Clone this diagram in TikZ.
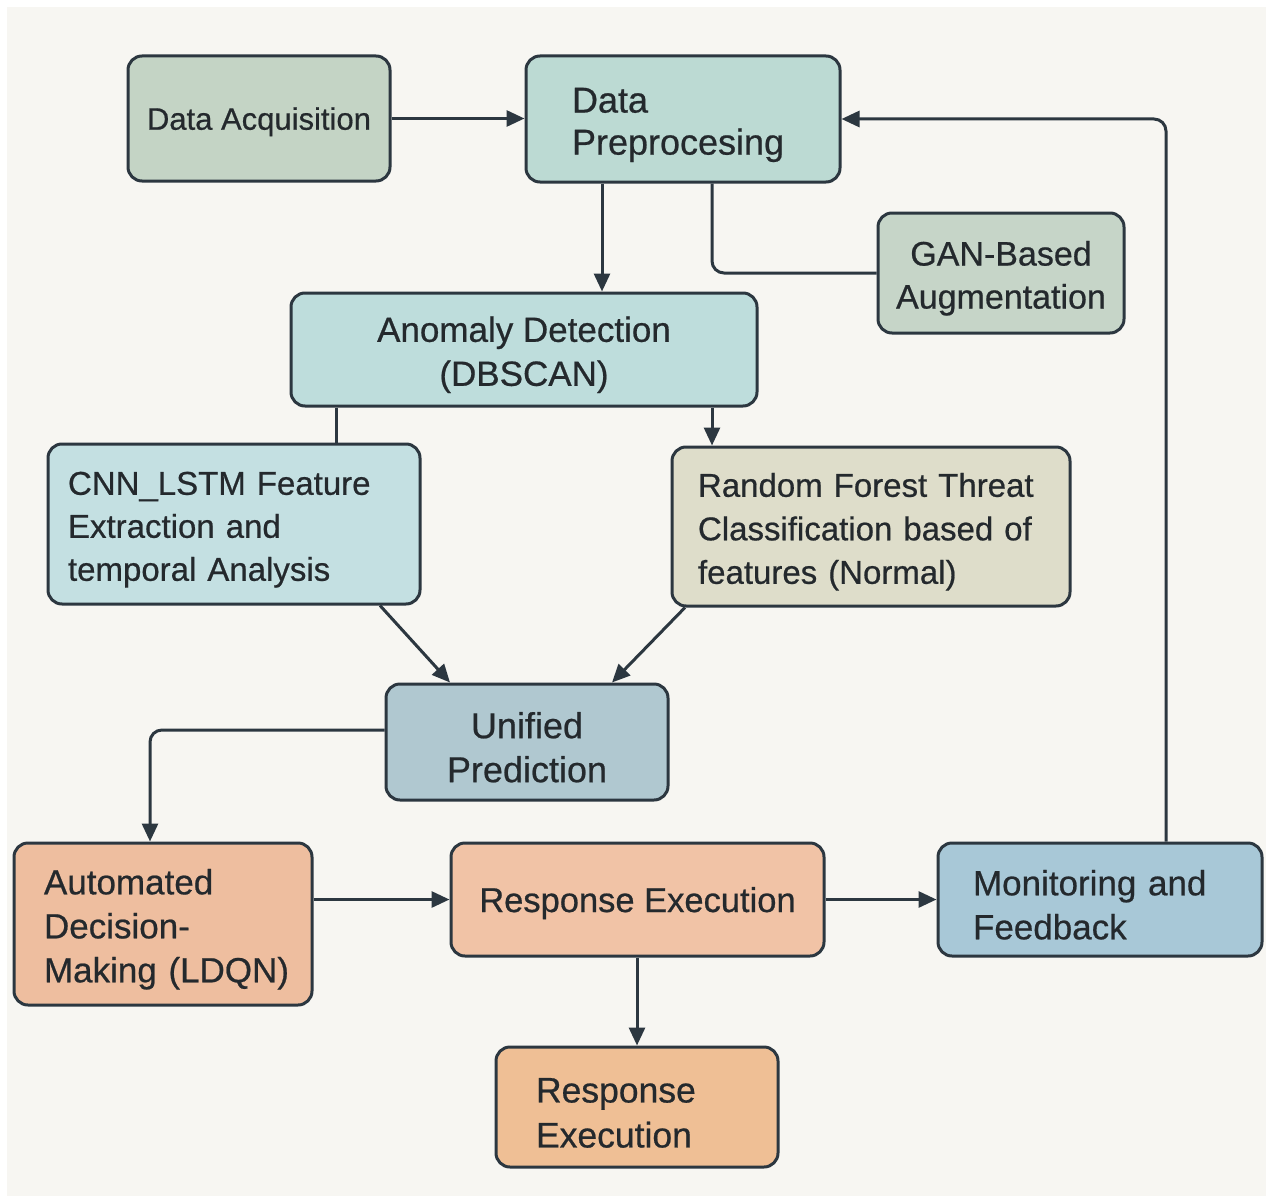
\documentclass[tikz,border=0pt]{standalone}
\usepackage{fontspec}
\setmainfont{Liberation Sans}[UprightFeatures={FakeBold=0.6}]
\usetikzlibrary{arrows.meta}

\definecolor{bg}{HTML}{F7F6F2}
\definecolor{edge}{HTML}{2C3740}
\definecolor{ink}{HTML}{24292D}
\definecolor{cAcq}{HTML}{C4D4C5}
\definecolor{cPre}{HTML}{BCDAD3}
\definecolor{cGan}{HTML}{C6D5C8}
\definecolor{cAno}{HTML}{BEDDDC}
\definecolor{cCnn}{HTML}{C4E0E2}
\definecolor{cRf}{HTML}{DEDDCA}
\definecolor{cUni}{HTML}{B0C8D0}
\definecolor{cAdm}{HTML}{EEBE9F}
\definecolor{cRes}{HTML}{F1C3A6}
\definecolor{cMon}{HTML}{A8C8D7}
\definecolor{cRes2}{HTML}{EFBF95}

% extra room above the first line, so that text blocks sit a little low in their boxes
\newcommand\topgap{\rule{0pt}{\dimexpr 0.74em+10pt\relax}}

\tikzset{
  blk/.style={draw=edge, line width=3pt, rounded corners=14pt, text=ink, inner sep=0pt},
  oneline/.style={text depth=0pt},
  conn/.style={draw=edge, line width=3pt},
  arr/.style={conn, -{Triangle[length=18pt,width=16pt]}},
}

\begin{document}
\begin{tikzpicture}[x=1pt,y=-1pt]
\useasboundingbox (0,0) rectangle (1266,1196);
\fill[white] (0,0) rectangle (1266,1196);
\fill[bg] (7,7) rectangle (1266,1196);

% boxes
\node[blk, oneline, fill=cAcq, minimum width=262pt, minimum height=125pt,
      font=\fontsize{31}{37}\selectfont] (acq) at (259,118.5) {Data Acquisition};
\node[blk, fill=cPre, minimum width=314pt, minimum height=126pt, text width=222pt, align=left,
      font=\fontsize{36}{42}\selectfont] (pre) at (683,119) {\topgap Data\\Preprocesing};
\node[blk, fill=cGan, minimum width=246pt, minimum height=120pt, align=center,
      font=\fontsize{34}{43}\selectfont] (gan) at (1001,273) {\topgap GAN-Based\\Augmentation};
\node[blk, fill=cAno, minimum width=466pt, minimum height=113pt, align=center,
      font=\fontsize{35}{44}\selectfont] (ano) at (524,349.5) {\topgap Anomaly Detection\\(DBSCAN)};
\node[blk, fill=cCnn, minimum width=372pt, minimum height=160pt, text width=332pt, align=left,
      font=\fontsize{33}{43}\selectfont] (cnn) at (234,524) {\topgap CNN\_LSTM~Feature\\Extraction~and\\temporal~Analysis};
\node[blk, fill=cRf, minimum width=398pt, minimum height=159pt, text width=346pt, align=left,
      font=\fontsize{33}{43.5}\selectfont] (rf) at (871,526.5) {\topgap Random~Forest~Threat\\Classification~based~of\\features~(Normal)};
\node[blk, fill=cUni, minimum width=282pt, minimum height=116pt, align=center,
      font=\fontsize{36}{44}\selectfont] (uni) at (527,742) {\topgap Unified\\Prediction};
\node[blk, fill=cAdm, minimum width=298pt, minimum height=162pt, text width=238pt, align=left,
      font=\fontsize{35}{44}\selectfont] (adm) at (163,924) {\topgap Automated\\Decision-\\Making~(LDQN)};
\node[blk, oneline, fill=cRes, minimum width=373pt, minimum height=113pt,
      font=\fontsize{34.5}{42}\selectfont] (res) at (637.5,899.5) {Response Execution};
\node[blk, fill=cMon, minimum width=324pt, minimum height=113pt, text width=254pt, align=left,
      font=\fontsize{35}{44}\selectfont] (mon) at (1100,899.5) {\topgap Monitoring~and\\Feedback};
\node[blk, fill=cRes2, minimum width=282pt, minimum height=120pt, text width=202pt, align=left,
      font=\fontsize{35.5}{45}\selectfont] (res2) at (637,1107) {\topgap Response\\Execution};

% x positions of the vertical connector runs
\coordinate (xPreTap) at (712,0);
\coordinate (xFeed) at (1166,0);
\coordinate (xAnoL) at (336,0);
\coordinate (xCnnOut) at (380,0);
\coordinate (xUniInL) at (450,0);
\coordinate (xRfOut) at (685,0);
\coordinate (xUniInR) at (612,0);
\coordinate (xAdmIn) at (150,0);
\coordinate (xPreOut) at (602,0);

% connectors
\draw[arr] (acq.east) -- (pre.west |- acq.east);
\draw[arr] (pre.south -| xPreOut) -- (ano.north -| xPreOut);
\draw[conn, rounded corners=12pt] (pre.south -| xPreTap) |- (gan.west);
\draw[arr, rounded corners=12pt] (mon.north -| xFeed) |- (pre.east);
\draw[conn] (ano.south -| xAnoL) -- (cnn.north -| xAnoL);
\draw[arr] (ano.south -| xPreTap) -- (rf.north -| xPreTap);
\draw[arr] (cnn.south -| xCnnOut) -- (uni.north -| xUniInL);
\draw[arr] (rf.south -| xRfOut) -- (uni.north -| xUniInR);
\draw[arr, rounded corners=12pt] (uni.west |- 0,730) -| (adm.north -| xAdmIn);
\draw[arr] (adm.east |- res.west) -- (res.west);
\draw[arr] (res.east) -- (mon.west);
\draw[arr] (res.south -| res2.north) -- (res2.north);
\end{tikzpicture}
\end{document}
